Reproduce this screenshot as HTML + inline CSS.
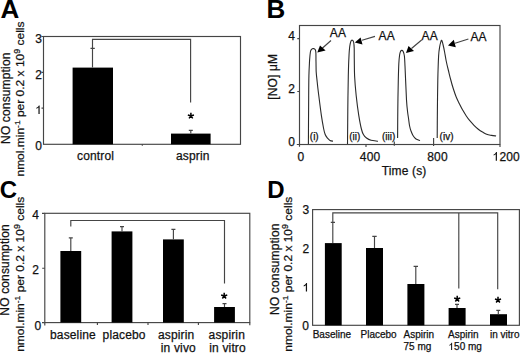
<!DOCTYPE html>
<html><head><meta charset="utf-8">
<style>
html,body{margin:0;padding:0;background:#fff;width:520px;height:353px;overflow:hidden}
svg{display:block}
text{font-family:"Liberation Sans",sans-serif;fill:#111;stroke:#111;stroke-width:0.25px}
.b{font-weight:bold;font-size:26px;fill:#000;stroke:none}
.t12{font-size:12px;letter-spacing:0.15px}
.t10{font-size:10px}
.ln{stroke:#454545;stroke-width:1.15;fill:none}
.cv{stroke:#2a2a2a;stroke-width:1.1;fill:none}
.bar{fill:#000}
</style></head><body>
<svg width="520" height="353" viewBox="0 0 520 353">
<defs><path id="one" d="M0.262 0H0.362V-0.716H0.297Q0.27 -0.64 0.2 -0.585Q0.14 -0.54 0.085 -0.52V-0.435Q0.19 -0.475 0.262 -0.535Z"/><path id="ast" d="M0 0V-3.2M0 0L3.05 -0.95M0 0L1.85 2.5M0 0L-1.85 2.5M0 0L-3.05 -0.95" stroke="#000" stroke-width="1.5" fill="none"/></defs>
<!-- panel letters -->
<text class="b" x="0.6" y="17.5">A</text>
<text class="b" x="266.5" y="17.5">B</text>
<text class="b" x="-0.3" y="198" style="font-size:24px">C</text>
<text class="b" x="267.2" y="198" style="font-size:24px">D</text>

<!-- ================= Panel A ================= -->
<rect class="ln" x="43.5" y="36.5" width="197" height="107.8"/>
<path class="ln" d="M41.5 36.5H43.5M41.5 72.3H43.5M41.5 108.1H43.5M142.3 144.3V145.8"/>
<g class="t12" text-anchor="end">
<text x="42" y="42.7">3</text>
<text x="42" y="78.7">2</text>

<text x="42" y="149.8">0</text>
</g>
<rect class="bar" x="72.6" y="67.6" width="40.4" height="76.7"/>
<rect class="bar" x="171" y="133.6" width="39.6" height="10.7"/>
<path class="ln" d="M92.5 67.6V39.3H190.6V102.4M90.5 48.3H94.8M190.8 133.6V130.4M188.8 130.4H192.8"/>
<use href="#ast" x="190.9" y="115.9"/>
<text class="t12" x="77" y="160.4">control</text>
<text class="t12" x="176" y="160.4">asprin</text>
<text class="t12" transform="translate(9.5,98.2) rotate(-90)" text-anchor="middle">NO consumption</text>
<text class="t12" style="letter-spacing:0" transform="translate(23.9,99) rotate(-90) scale(1,0.94)" text-anchor="middle">nmol.min<tspan style="font-size:8.5px" dy="-4.3">-1</tspan><tspan dy="4.3"> per 0.2 x 10</tspan><tspan style="font-size:9px" dy="-4.3">9</tspan><tspan dy="4.3"> cells</tspan></text>

<!-- ================= Panel B ================= -->
<rect class="ln" x="299.5" y="25.5" width="200.5" height="119"/>
<path class="ln" d="M297.3 38.6H299.5M297.3 91.5H299.5M296.8 144.5H299.5M299.5 144.5V146.8M366 144.5V147M394.3 141.5V145.8M433.6 138V146M500 144.5V147"/>
<g class="t12" text-anchor="end">
<text x="295" y="39.5">4</text>
<text x="295" y="93.2">2</text>
<text x="295" y="146.3">0</text>
</g>
<g class="t12" text-anchor="middle">
<text x="301" y="160.6">0</text>
<text x="370.1" y="160.7">400</text>
<text x="437.5" y="160.7">800</text>

<text x="404.1" y="175.3">Time (s)</text>
</g>
<text class="t12" transform="translate(277.3,76.8) rotate(-90)" text-anchor="middle">[NO] μM</text>
<!-- curves -->
<path class="cv" d="M308.4 144.0C308.4 138.3 308.5 121.3 308.6 110.0C308.7 98.7 308.7 84.3 308.9 76.0C309.1 67.7 309.4 64.0 309.6 60.0C309.9 56.0 310.1 53.8 310.4 52.0C310.7 50.2 311.1 49.9 311.6 49.3C312.1 48.7 313.0 48.5 313.6 48.6C314.2 48.7 314.8 48.9 315.2 49.6C315.6 50.3 315.8 50.9 315.9 53.0C316.0 55.1 315.9 58.8 316.0 62.0C316.1 65.2 316.0 68.7 316.2 72.0C316.4 75.3 316.8 78.0 317.2 82.0C317.6 86.0 318.1 90.2 318.8 95.8C319.5 101.4 320.6 110.1 321.4 115.6C322.2 121.0 323.0 125.3 323.6 128.5C324.2 131.7 324.6 132.9 325.2 134.5C325.8 136.1 326.7 137.2 327.5 138.2C328.3 139.2 329.1 139.9 330.0 140.4C330.9 140.9 332.5 141.1 333.0 141.2"/>
<path class="cv" d="M347.5 144.0C347.6 138.3 347.7 121.3 347.8 110.0C347.9 98.7 348.1 84.7 348.3 76.0C348.5 67.3 348.6 63.0 348.9 58.0C349.1 53.0 349.4 48.8 349.8 46.0C350.2 43.2 350.6 42.0 351.0 41.0C351.4 40.0 352.0 40.0 352.4 40.2C352.8 40.4 353.3 40.7 353.6 42.0C353.9 43.3 354.1 45.0 354.2 48.0C354.3 51.0 354.2 55.3 354.3 60.0C354.4 64.7 354.3 70.0 354.6 76.0C354.9 82.0 355.5 89.2 356.2 95.8C356.9 102.4 357.9 110.1 358.8 115.6C359.7 121.1 360.6 125.8 361.4 129.0C362.2 132.2 362.5 133.0 363.4 134.5C364.2 136.0 365.2 137.0 366.5 138.0C367.8 139.0 369.1 139.8 371.0 140.3C372.9 140.8 376.8 141.0 378.0 141.2"/>
<path class="cv" d="M397.6 138.0C397.6 133.3 397.7 119.7 397.8 110.0C397.9 100.3 398.1 87.7 398.3 80.0C398.5 72.3 398.6 68.2 398.8 64.0C399.0 59.8 399.3 57.1 399.6 55.0C399.9 52.9 400.2 52.0 400.6 51.2C401.0 50.4 401.4 50.4 401.8 50.4C402.2 50.4 402.8 50.6 403.2 51.5C403.6 52.4 404.1 53.6 404.4 56.0C404.7 58.4 404.8 62.0 405.0 66.0C405.2 70.0 405.4 74.3 405.6 80.0C405.9 85.7 406.2 94.7 406.5 100.0C406.8 105.3 407.2 108.8 407.6 112.0C408.0 115.2 408.3 116.7 408.6 119.0C408.9 121.3 409.2 124.0 409.6 126.0C410.0 128.0 410.4 129.4 411.0 131.0C411.6 132.6 412.2 134.2 413.0 135.5C413.8 136.8 414.8 138.2 416.0 139.0C417.2 139.8 419.3 140.2 420.0 140.5"/>
<path class="cv" d="M437.2 138.0C437.2 133.3 437.3 119.7 437.4 110.0C437.5 100.3 437.6 89.0 437.8 80.0C438.0 71.0 438.3 61.7 438.6 56.0C438.9 50.3 439.4 48.3 439.8 46.0C440.2 43.7 440.5 43.0 440.8 42.0C441.1 41.0 441.4 39.9 441.8 40.3C442.2 40.7 442.5 42.5 443.0 44.5C443.5 46.5 444.1 49.2 444.6 52.0C445.1 54.8 445.6 58.0 446.2 61.0C446.8 64.0 447.5 66.8 448.3 70.0C449.1 73.2 449.9 76.8 450.8 80.0C451.6 83.2 452.5 86.2 453.4 89.0C454.3 91.8 455.2 94.5 456.2 97.0C457.2 99.5 458.4 101.7 459.5 104.0C460.6 106.3 461.9 108.6 463.0 110.6C464.1 112.6 465.2 114.3 466.3 116.0C467.4 117.7 468.5 119.2 469.8 120.7C471.1 122.2 472.6 123.9 474.0 125.3C475.4 126.7 476.9 128.1 478.3 129.2C479.7 130.3 481.1 131.2 482.5 132.0C483.9 132.8 485.2 133.7 486.7 134.3C488.2 134.9 489.9 135.1 491.5 135.4C493.1 135.7 495.3 135.9 496.1 136.0"/>
<!-- arrows -->
<g class="ln"><path d="M331 40.5L322 48.5M375 36.4L362 40.2M421.6 40L411.5 48.5M468.4 39L455 43.3"/></g>
<g fill="#000">
<path d="M317.3 52.6L320 45.6L325.6 50.4Z"/>
<path d="M354.8 42.4L360.6 37.4L362.5 44.5Z"/>
<path d="M406 53L408.5 46L414 51Z"/>
<path d="M448 45.6L453.8 39.8L455.8 47.2Z"/>
</g>
<g class="t12">
<text x="329.8" y="37.4">AA</text>
<text x="378.6" y="39.6">AA</text>
<text x="421.6" y="39.6">AA</text>
<text x="470.4" y="41">AA</text>
</g>
<g class="t10">
<text x="309.8" y="139.9">(i)</text>
<text x="349.2" y="139.9">(ii)</text>
<text x="382" y="139.9">(iii)</text>
<text x="439.6" y="139.9">(iv)</text>
</g>

<!-- ================= Panel C ================= -->
<rect class="ln" x="44.8" y="213.3" width="205" height="109.3"/>
<path class="ln" d="M42 213.3H44.8M42.2 268.2H44.8M42 322.6H44.8M44.8 322.6V325.5M249.8 322.6V325.3M97.4 322.5V325M148 322.5V325M198.4 322.5V325"/>
<g class="t12" text-anchor="end">
<text x="39.2" y="218.8">4</text>
<text x="39.2" y="273.5">2</text>
<text x="41.3" y="330.2">0</text>
</g>
<rect class="bar" x="60.4" y="251" width="20.8" height="71.6"/>
<rect class="bar" x="111.6" y="231.4" width="20.8" height="91.2"/>
<rect class="bar" x="163" y="239.4" width="20.8" height="83.2"/>
<rect class="bar" x="214.1" y="307" width="20.8" height="15.6"/>
<path class="ln" d="M70.8 226.4V220.5H224.5V283.6M70.8 251V237.8M68.8 237.8H72.8M122 231.4V226.6M120 226.6H124M173.4 239.4V229.4M171.4 229.4H175.4M224.5 307V303.6M222.5 303.6H226.5"/>
<use href="#ast" x="224.2" y="296"/>
<g class="t12">
<text x="50" y="338.5">baseline</text>
<text x="102.6" y="338.7">placebo</text>
<text x="158" y="339.3">aspirin</text>
<text x="160.8" y="352.4">in vivo</text>
<text x="208.6" y="339.3">aspirin</text>
<text x="209.3" y="352.4">in vitro</text>
</g>
<text class="t12" transform="translate(9,269.9) rotate(-90)" text-anchor="middle">NO consumption</text>
<text class="t12" style="letter-spacing:0" transform="translate(24,274.3) rotate(-90) scale(1,0.94)" text-anchor="middle">nmol.min<tspan style="font-size:8.5px" dy="-4.3">-1</tspan><tspan dy="4.3"> per 0.2 x 10</tspan><tspan style="font-size:9px" dy="-4.3">9</tspan><tspan dy="4.3"> cells</tspan></text>

<!-- ================= Panel D ================= -->
<rect class="ln" x="312.6" y="209.6" width="206.8" height="115.7"/>
<g class="t12" text-anchor="end">
<text x="309.4" y="214.4">3</text>
<text x="309.4" y="252.6">2</text>

<text x="309.2" y="329.5">0</text>
</g>
<rect class="bar" x="324.9" y="243.1" width="16.8" height="82.2"/>
<rect class="bar" x="366" y="248" width="17" height="77.3"/>
<rect class="bar" x="407.4" y="284" width="17" height="41.3"/>
<rect class="bar" x="448.6" y="308" width="17" height="17.3"/>
<rect class="bar" x="490" y="314.2" width="17" height="11.1"/>
<path class="ln" d="M332.8 243V212.8H497.7V289.2M458.8 212.8V288.5M330.8 222.4H335M374.5 248V236.4M372.3 236.4H376.7M415.8 284V266.4M413.6 266.4H418M457 308V304.3M455 304.3H459M498.3 314.2V310.3M496.3 310.3H500.3"/>
<use href="#ast" x="457.2" y="299"/>
<use href="#ast" x="498" y="300"/>
<g class="t10">
<text x="312.7" y="338.1">Baseline</text>
<text x="360.5" y="338.1">Placebo</text>
<text x="403.5" y="338.1">Aspirin</text>
<text x="403.5" y="350">75 mg</text>
<text x="448" y="338.1">Aspirin</text>
<text x="454.1" y="350">50 mg</text>
<text x="490" y="338.1">in vitro</text>
</g>
<text class="t12" transform="translate(278.6,269.2) rotate(-90)" text-anchor="middle">NO consumption</text>
<text class="t12" style="letter-spacing:0" transform="translate(292.4,274.2) rotate(-90) scale(1,0.94)" text-anchor="middle">nmol.min<tspan style="font-size:8.5px" dy="-4.3">-1</tspan><tspan dy="4.3"> per 0.2 x 10</tspan><tspan style="font-size:9px" dy="-4.3">9</tspan><tspan dy="4.3"> cells</tspan></text>
<g fill="#111">
<use href="#one" transform="translate(35.3,114) scale(12)"/>
<use href="#one" transform="translate(302.7,291.6) scale(12)"/>
<use href="#one" transform="translate(492.6,160.7) scale(12)"/>
<use href="#one" transform="translate(448.5,350) scale(10)"/>
</g>
<text class="t12" x="499.4" y="160.7">200</text>
</svg>
</body></html>
